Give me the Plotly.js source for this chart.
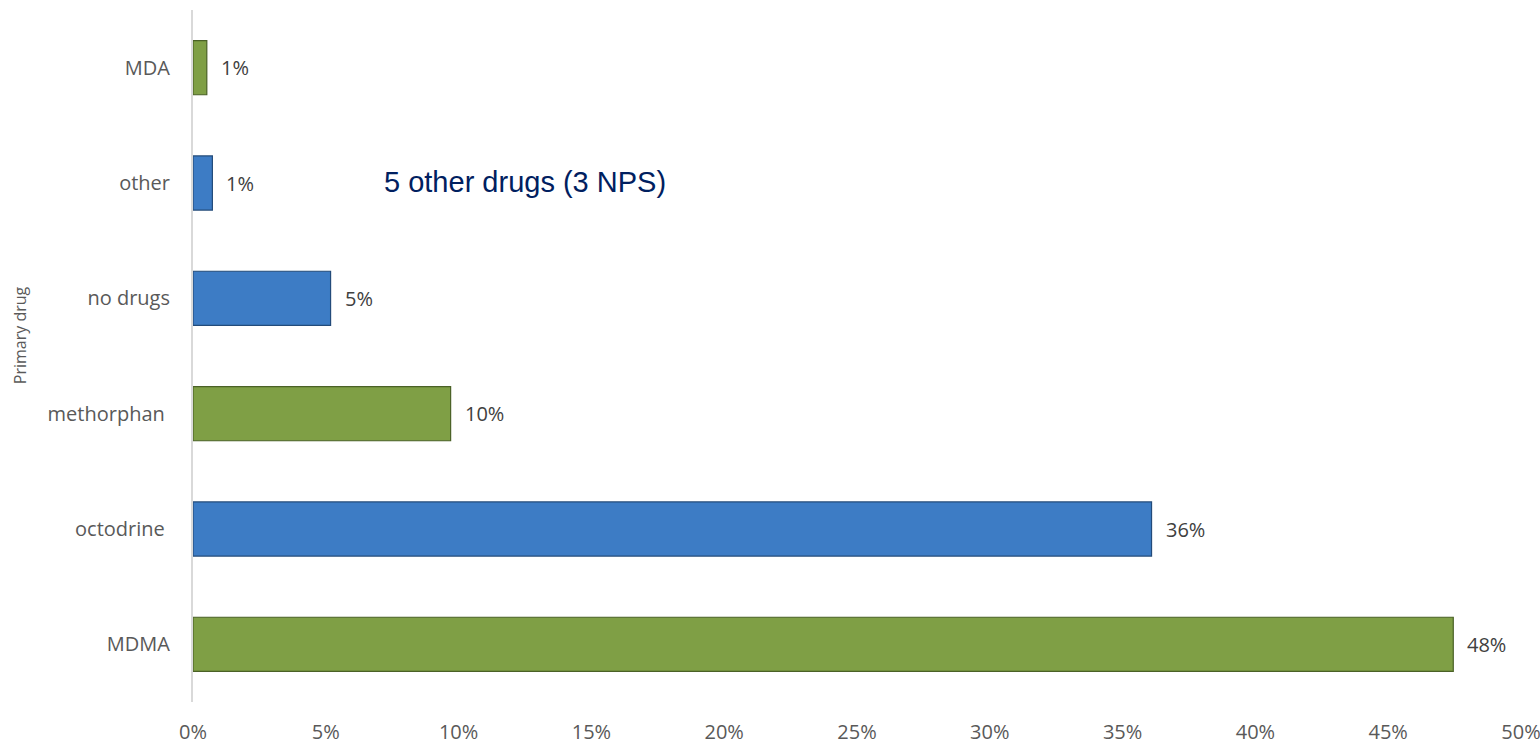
<!DOCTYPE html>
<html>
<head>
<meta charset="utf-8">
<script src="https://cdn.plot.ly/plotly-3.0.1.min.js"></script>
<style>html,body{margin:0;padding:0;background:#fff;}#chart{width:1540px;height:744px;}</style>
</head>
<body>
<div id="chart"></div>
<script>
const categories = ['MDMA', 'octodrine\u00a0', 'methorphan\u00a0', 'no drugs', 'other', 'MDA'];
const shares = [0.4745, 0.3609, 0.0970, 0.0518, 0.0073, 0.0052];
const shareLabels = ['48%', '36%', '10%', '5%', '1%', '1%'];
const barColors = ['#7F9F45', '#3D7CC5', '#7F9F45', '#3D7CC5', '#3D7CC5', '#7F9F45'];
const edgeColors = ['#4A6126', '#234B7A', '#4A6126', '#234B7A', '#234B7A', '#4A6126'];
const noteText = '5 other drugs (3 NPS)';
const axisTitle = 'Primary drug';
const xTickVals = [0, 0.05, 0.10, 0.15, 0.20, 0.25, 0.30, 0.35, 0.40, 0.45, 0.50];

const font = '"Open Sans", Lato, sans-serif';

const trace = {
  type: 'bar',
  orientation: 'h',
  x: shares,
  y: categories,
  width: 0.47,
  marker: {color: barColors, line: {color: edgeColors, width: 1.2}},
  hoverinfo: 'skip'
};

const annotations = categories.map((c, i) => ({
  x: shares[i], y: c, xref: 'x', yref: 'y',
  text: shareLabels[i],
  showarrow: false, xanchor: 'left', xshift: 12,
  font: {family: font, size: 20, color: '#404040'}
}));
annotations.push({
  x: 0.0712, y: 'other', xref: 'x', yref: 'y',
  text: noteText, showarrow: false, xanchor: 'left', yshift: 1,
  font: {family: '"Liberation Sans", Arial, sans-serif', size: 29, color: '#002060'}
});
annotations.push({
  x: 0, y: 0.53, xref: 'paper', yref: 'paper',
  text: axisTitle, textangle: -90, showarrow: false,
  xanchor: 'center', yanchor: 'middle', xshift: -173,
  font: {family: font, size: 16, color: '#595959'}
});

const layout = {
  width: 1540, height: 744,
  margin: {l: 193, r: 19, t: 10, b: 42},
  paper_bgcolor: '#fff', plot_bgcolor: '#fff',
  showlegend: false,
  font: {family: font, size: 20, color: '#595959'},
  xaxis: {
    range: [0, 0.5], tickvals: xTickVals, tickformat: '.0%',
    showgrid: false, zeroline: false, showline: false,
    ticks: '', ticklabelstandoff: 16, ticklabeloverflow: 'allow',
    tickfont: {family: font, size: 20, color: '#595959'}
  },
  yaxis: {
    type: 'category', categoryorder: 'array', categoryarray: categories,
    showgrid: false, zeroline: false,
    showline: true, linecolor: '#D9D9D9', linewidth: 2,
    ticks: '', ticklabelstandoff: 17,
    tickfont: {family: font, size: 20, color: '#595959'}
  },
  annotations: annotations
};

Plotly.newPlot('chart', [trace], layout, {displayModeBar: false, staticPlot: true});
</script>
</body>
</html>
